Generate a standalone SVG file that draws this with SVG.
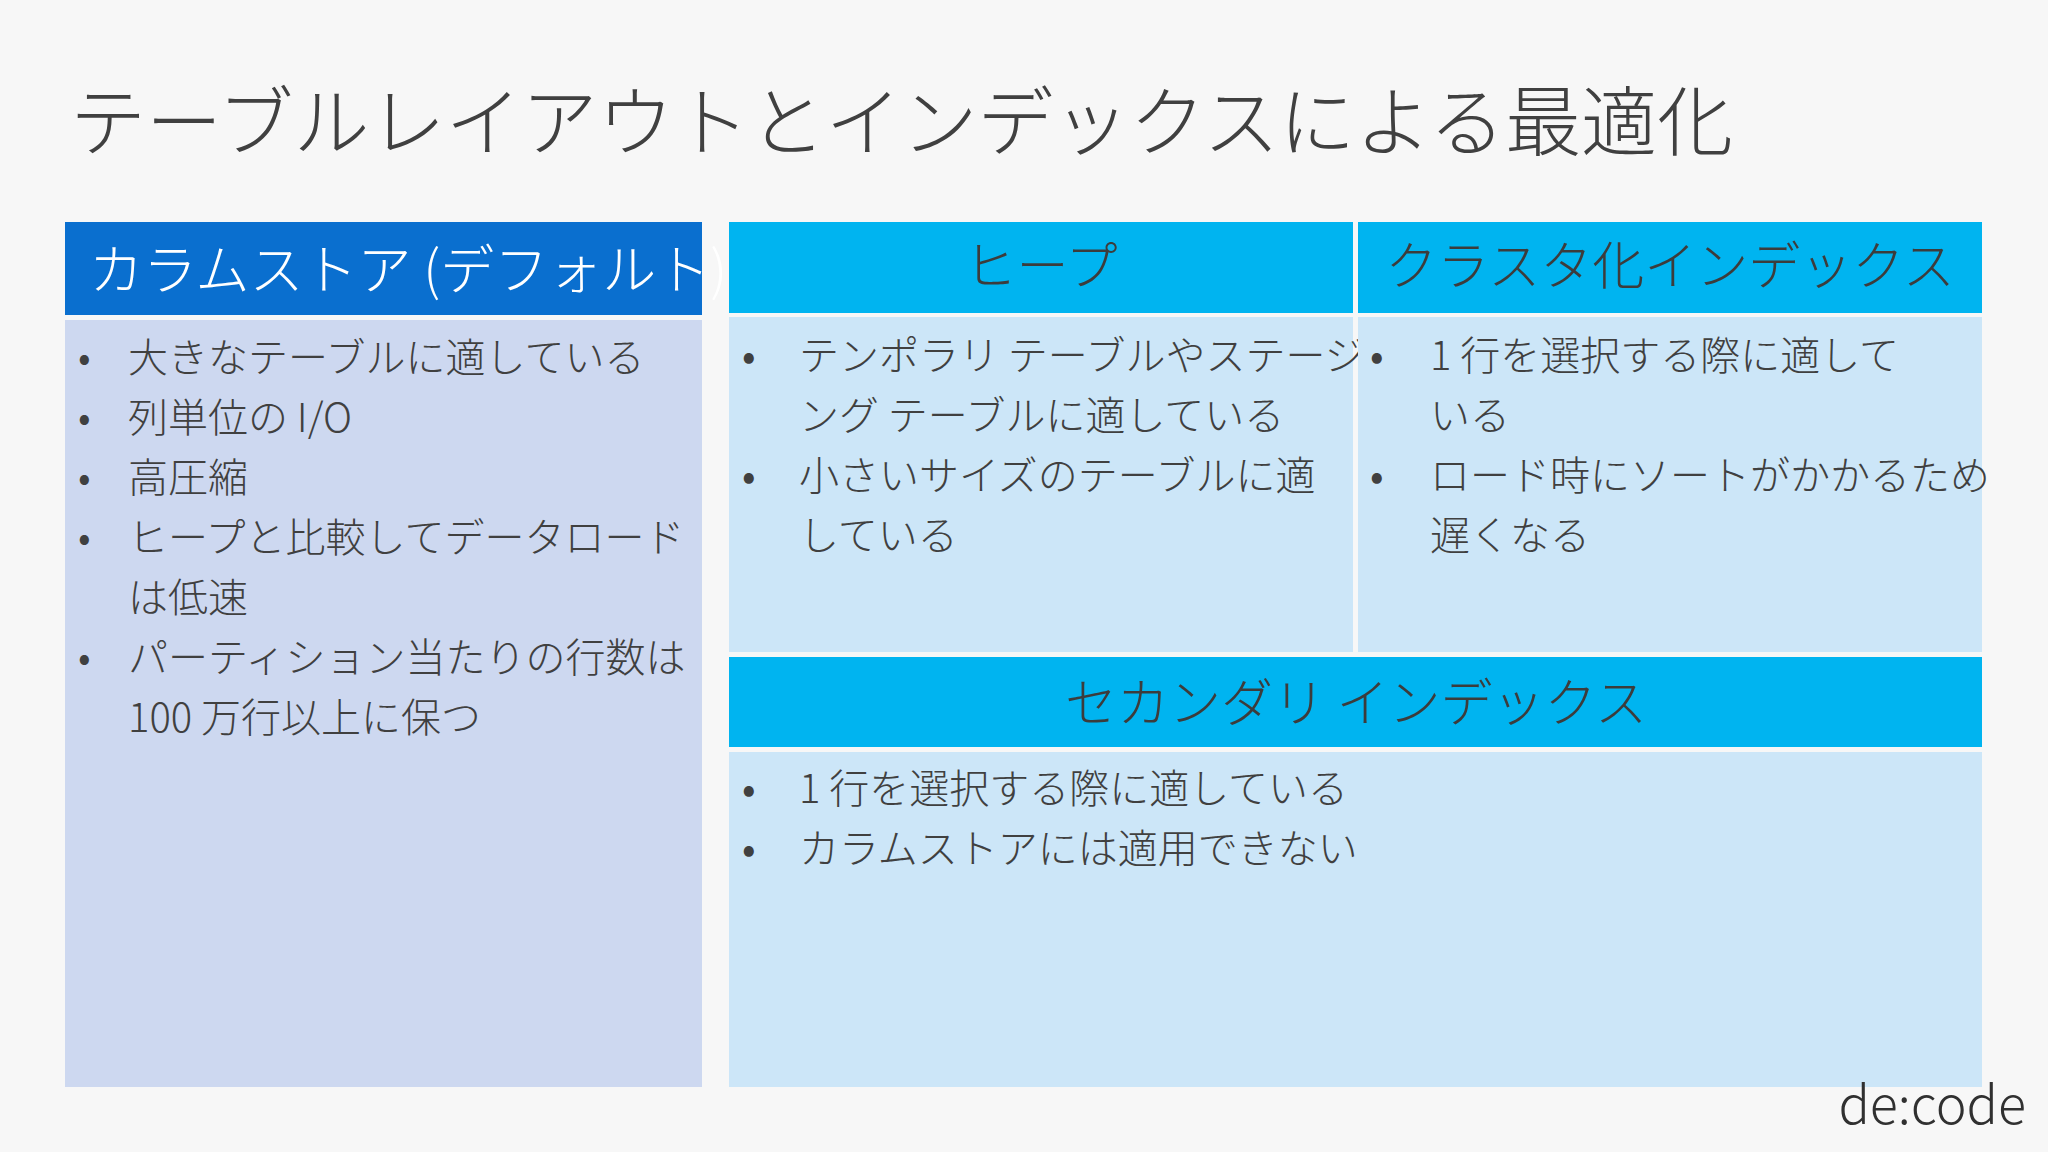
<svg xmlns="http://www.w3.org/2000/svg" width="2048" height="1152" viewBox="0 0 2048 1152">
<style>
text{font-family:"Noto Sans CJK JP","Noto Sans",sans-serif;}
.t{font-size:40px;fill:#404040;font-weight:300}
.b{font-size:40px;fill:#404040}
.h{font-size:52px;fill:#3c3c3c;font-weight:300;text-anchor:middle}
</style>
<rect width="2048" height="1152" fill="#f7f7f7"/>
<text x="70" y="150" font-size="76" fill="#404040" font-weight="300">テーブルレイアウトとインデックスによる最適化</text>
<g id="colstore">
<rect x="65" y="222" width="637" height="93" fill="#0a6fcf"/>
<text x="89" y="290" font-size="54" fill="#ffffff" font-weight="300">カラムストア (デフォルト)</text>
<rect x="65" y="320" width="637" height="767" fill="#cdd8f0"/>
<g class="t">
<text class="b" x="78" y="372">•</text><text class="t" x="128" y="372">大きなテーブルに適している</text>
<text class="b" x="78" y="432">•</text><text class="t" x="128" y="432">列単位の I/O</text>
<text class="b" x="78" y="492">•</text><text class="t" x="128" y="492">高圧縮</text>
<text class="b" x="78" y="552">•</text><text class="t" x="128" y="552">ヒープと比較してデータロード</text>
<text class="t" x="128" y="612">は低速</text>
<text class="b" x="78" y="672">•</text><text class="t" x="128" y="672">パーティション当たりの行数は</text>
<text class="t" x="128" y="732">100 万行以上に保つ</text>
</g>
</g>
<g id="heap">
<rect x="729" y="222" width="624" height="91" fill="#00b4f0"/>
<text class="h" x="1041" y="285">ヒープ</text>
<rect x="729" y="317" width="624" height="335" fill="#cce6f8"/>
<text class="b" x="742" y="370">•</text><text class="t" x="799" y="370">テンポラリ テーブルやステージ</text>
<text class="t" x="799" y="430">ング テーブルに適している</text>
<text class="b" x="742" y="490">•</text><text class="t" x="799" y="490">小さいサイズのテーブルに適</text>
<text class="t" x="799" y="550">している</text>
</g>
<g id="clustered">
<rect x="1358" y="222" width="624" height="91" fill="#00b4f0"/>
<text class="h" x="1670" y="285">クラスタ化インデックス</text>
<rect x="1358" y="317" width="624" height="335" fill="#cce6f8"/>
<text class="b" x="1370" y="370">•</text><text class="t" x="1430" y="370">1 行を選択する際に適して</text>
<text class="t" x="1430" y="430">いる</text>
<text class="b" x="1370" y="490">•</text><text class="t" x="1430" y="490">ロード時にソートがかかるため</text>
<text class="t" x="1430" y="550">遅くなる</text>
</g>
<g id="secondary">
<rect x="729" y="657" width="1253" height="90" fill="#00b4f0"/>
<text class="h" x="1356" y="722">セカンダリ インデックス</text>
<rect x="729" y="752" width="1253" height="335" fill="#cce6f8"/>
<text class="b" x="742" y="803">•</text><text class="t" x="799" y="803">1 行を選択する際に適している</text>
<text class="b" x="742" y="863">•</text><text class="t" x="799" y="863">カラムストアには適用できない</text>
</g>
<g id="connectors"/>
<text x="2026" y="1124" font-size="52" fill="#303030" font-weight="300" text-anchor="end" font-family="'Open Sans',sans-serif">de:code</text>
</svg>
